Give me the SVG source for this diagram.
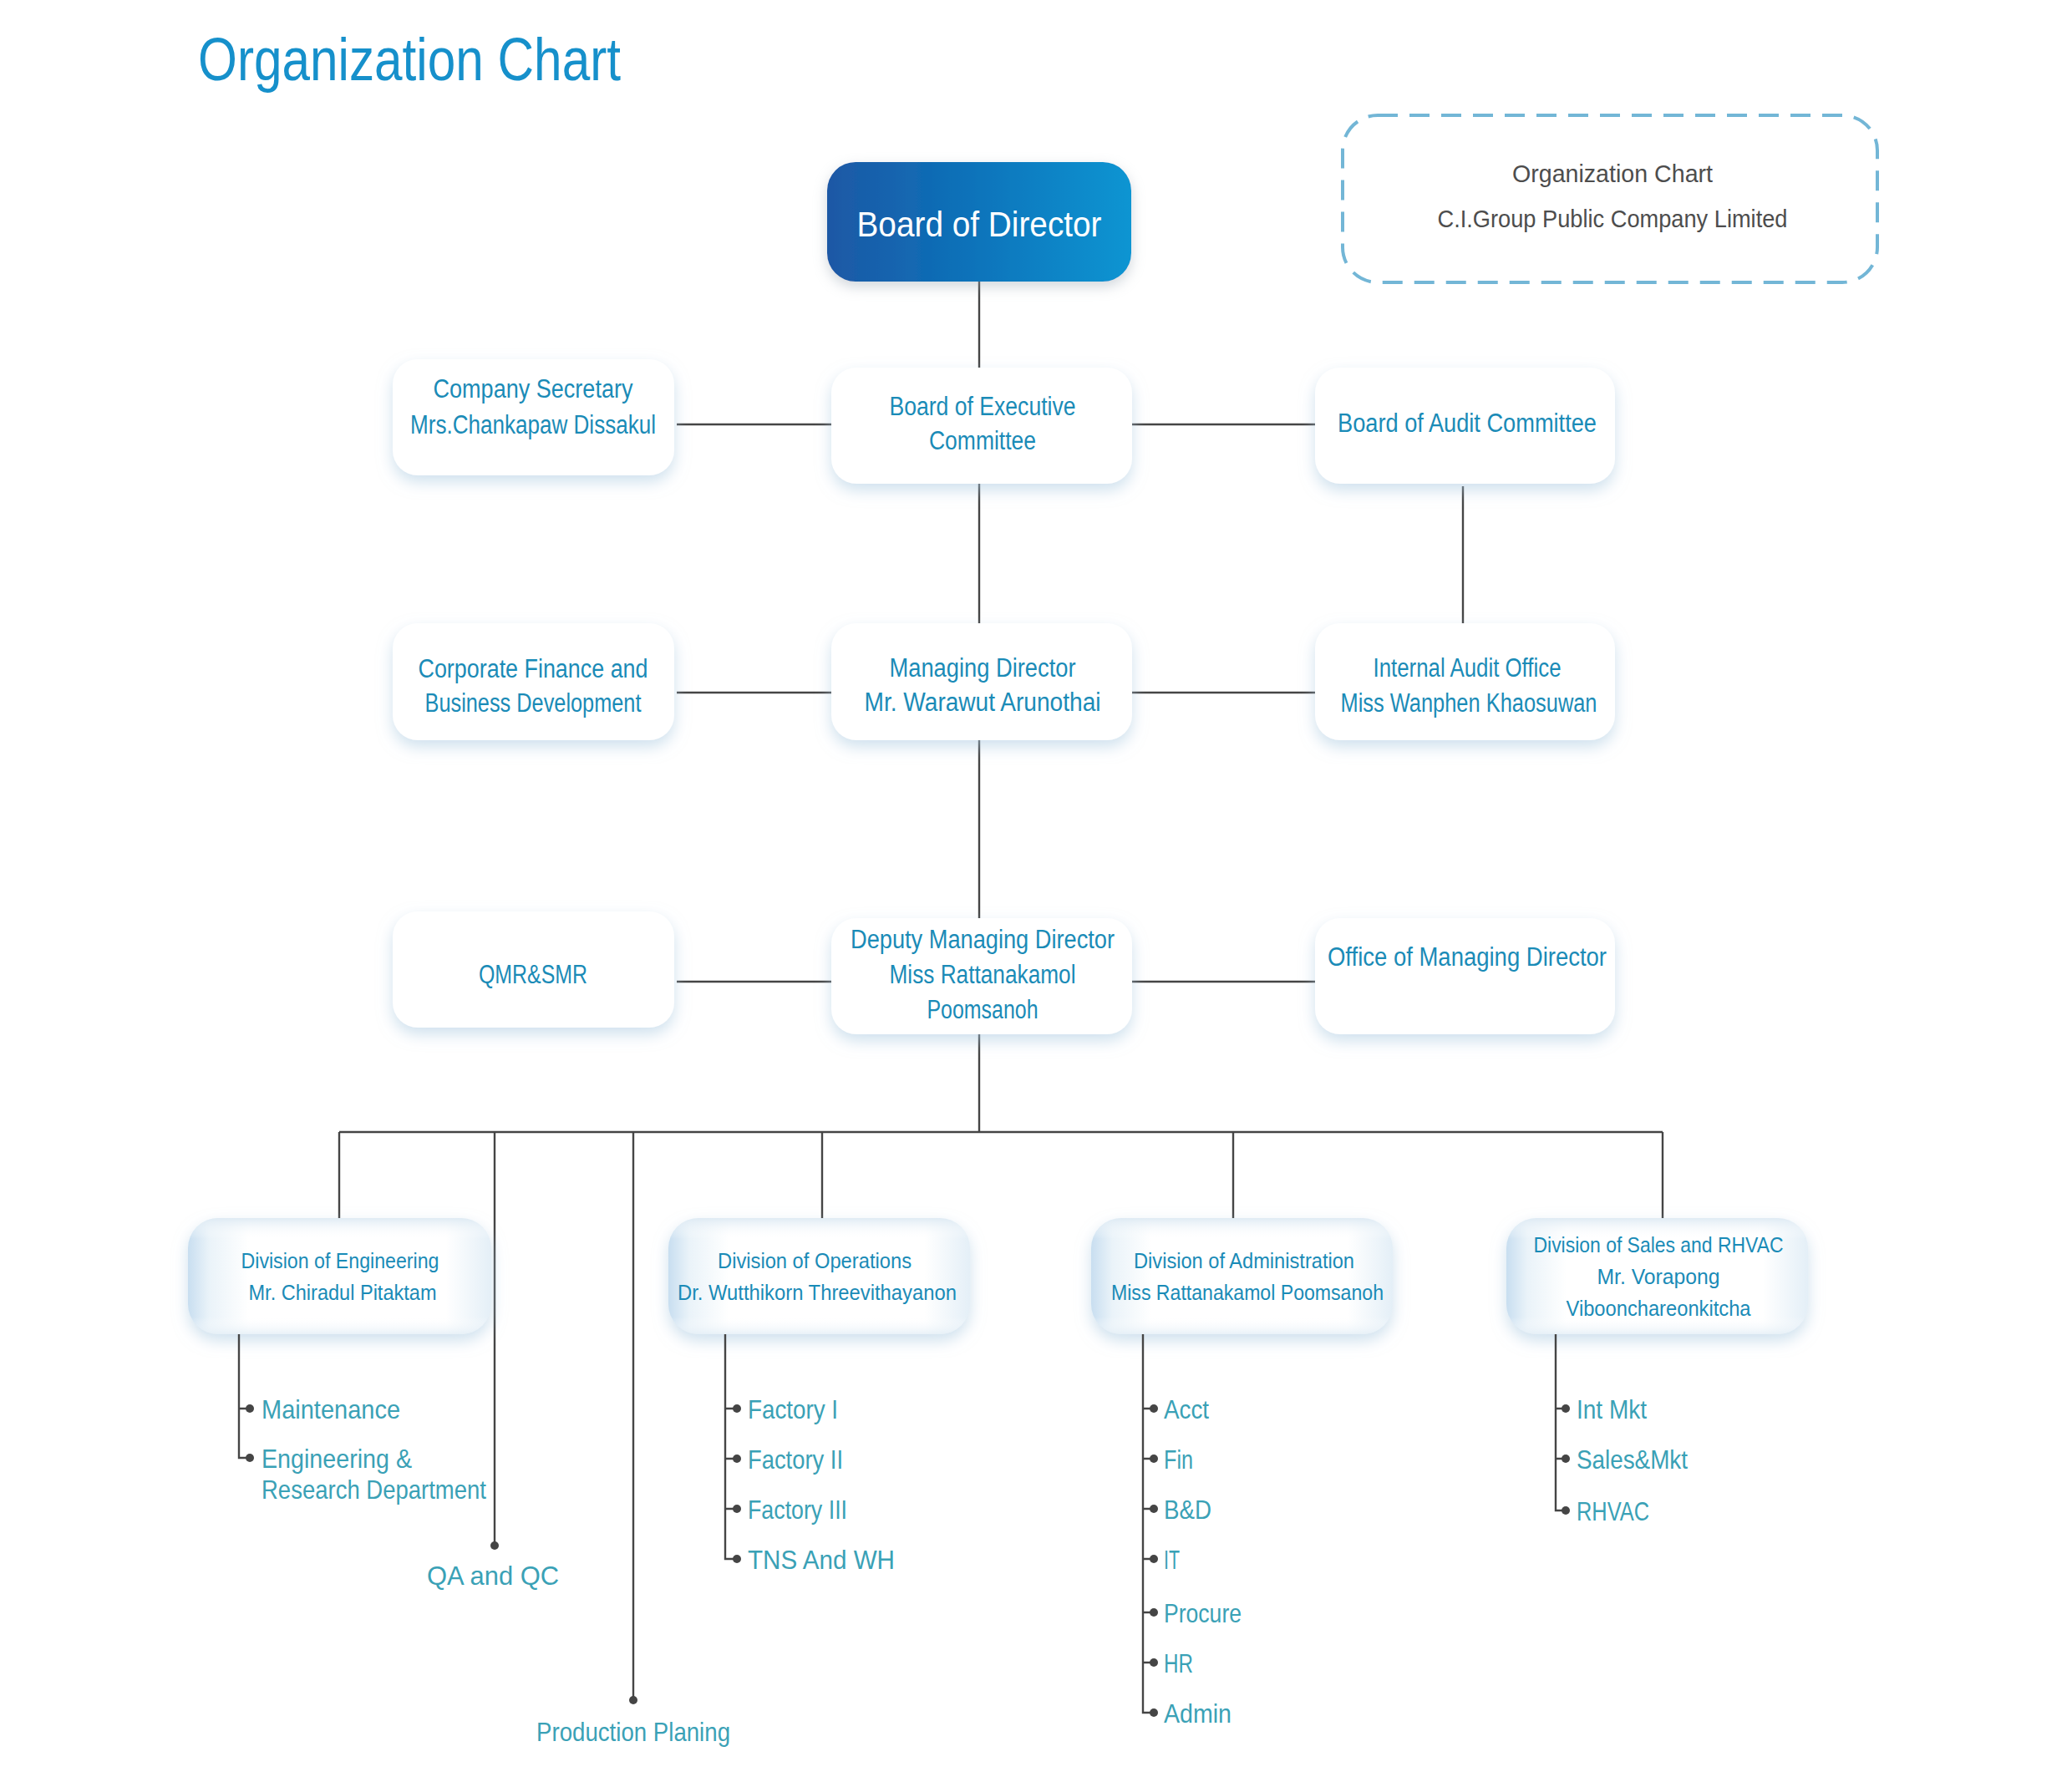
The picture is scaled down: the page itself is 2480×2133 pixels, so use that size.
<svg xmlns="http://www.w3.org/2000/svg" width="2480" height="2133" viewBox="0 0 2480 2133">
<defs>
<linearGradient id="bodGrad" x1="0" y1="0" x2="1" y2="0">
<stop offset="0" stop-color="#1d58a5"/>
<stop offset="0.5" stop-color="#0a74bb"/>
<stop offset="1" stop-color="#0b95d2"/>
</linearGradient>
<linearGradient id="divGradH" x1="0" y1="0" x2="1" y2="0">
<stop offset="0" stop-color="#c8def0"/>
<stop offset="0.07" stop-color="#eaf3f9"/>
<stop offset="0.2" stop-color="#ffffff"/>
<stop offset="0.85" stop-color="#ffffff"/>
<stop offset="1" stop-color="#e4eff7"/>
</linearGradient>
<linearGradient id="divGradV" x1="0" y1="0" x2="0" y2="1">
<stop offset="0" stop-color="#dce9f3" stop-opacity="0.9"/>
<stop offset="0.18" stop-color="#ffffff" stop-opacity="0"/>
<stop offset="0.85" stop-color="#ffffff" stop-opacity="0"/>
<stop offset="1" stop-color="#e3eef6" stop-opacity="0.8"/>
</linearGradient>
<filter id="shadowBlue" x="-20%" y="-20%" width="140%" height="150%">
<feDropShadow dx="0" dy="8" stdDeviation="9" flood-color="#a9c8e0" flood-opacity="0.55"/>
</filter>
<filter id="shadowGrey" x="-20%" y="-20%" width="140%" height="150%">
<feDropShadow dx="0" dy="6" stdDeviation="8" flood-color="#9aa6b2" flood-opacity="0.45"/>
</filter>
</defs>
<style>
text { font-family: "Liberation Sans", Arial, sans-serif; }
.title { font-size: 72px; fill: #1690cb; }
.bt { font-size: 42px; fill: #ffffff; text-anchor: middle; }
.nt { font-size: 31px; fill: #1a8bb7; text-anchor: middle; }
.dt { font-size: 25px; fill: #1a8bb7; text-anchor: middle; }
.lt { font-size: 32px; fill: #3aa1b6; }
.ltc { font-size: 32px; fill: #3aa1b6; text-anchor: middle; }
.bx { fill: #ffffff; filter: url(#shadowBlue); }
.dv { fill: url(#divGradH); filter: url(#shadowBlue); }
.dvo { fill: url(#divGradV); }
.ct { fill: none; stroke: #454545; stroke-width: 2.4; }
.dot { fill: #454545; }
.info { font-size: 30px; fill: #4d4d4d; text-anchor: middle; }
</style>
<rect width="2480" height="2133" fill="#ffffff"/>

<text class="title" x="237" y="96" textLength="506" lengthAdjust="spacingAndGlyphs">Organization Chart</text>

<g id="info-box">
<rect x="1607" y="138" width="640" height="200" rx="42" fill="none" stroke="#73b6d6" stroke-width="4" stroke-dasharray="24 14"/>
<text class="info" x="1930" y="218" textLength="240" lengthAdjust="spacingAndGlyphs">Organization Chart</text>
<text class="info" x="1930" y="272" textLength="419" lengthAdjust="spacingAndGlyphs">C.I.Group Public Company Limited</text>
</g>

<g id="connectors">
<path class="ct" d="M1172 337 V440"/>
<path class="ct" d="M810 508 H995"/>
<path class="ct" d="M1355 508 H1574"/>
<path class="ct" d="M1172 579 V746"/>
<path class="ct" d="M1751 582 V746"/>
<path class="ct" d="M810 829 H995"/>
<path class="ct" d="M1355 829 H1574"/>
<path class="ct" d="M1172 886 V1099"/>
<path class="ct" d="M810 1175 H995"/>
<path class="ct" d="M1355 1175 H1574"/>
<path class="ct" d="M1172 1238 V1355"/>
<path class="ct" d="M406 1355 H1990"/>
<path class="ct" d="M406 1355 V1458"/>
<path class="ct" d="M592 1355 V1850"/>
<path class="ct" d="M758 1355 V2035"/>
<path class="ct" d="M984 1355 V1458"/>
<path class="ct" d="M1476 1355 V1458"/>
<path class="ct" d="M1990 1355 V1458"/>
<circle class="dot" cx="592" cy="1850" r="5"/>
<circle class="dot" cx="758" cy="2035" r="5"/>
</g>

<g id="board-of-director">
<rect x="990" y="194" width="364" height="143" rx="34" fill="url(#bodGrad)" filter="url(#shadowGrey)"/>
<text class="bt" x="1172" y="283" textLength="293" lengthAdjust="spacingAndGlyphs">Board of Director</text>
</g>

<g id="company-secretary">
<rect class="bx" x="470" y="430" width="337" height="139" rx="30"/>
<text class="nt" x="638" y="476" textLength="239" lengthAdjust="spacingAndGlyphs">Company Secretary</text>
<text class="nt" x="638" y="519" textLength="294" lengthAdjust="spacingAndGlyphs">Mrs.Chankapaw Dissakul</text>
</g>

<g id="board-of-executive-committee">
<rect class="bx" x="995" y="440" width="360" height="139" rx="30"/>
<text class="nt" x="1176" y="497" textLength="223" lengthAdjust="spacingAndGlyphs">Board of Executive</text>
<text class="nt" x="1176" y="538" textLength="128" lengthAdjust="spacingAndGlyphs">Committee</text>
</g>

<g id="board-of-audit-committee">
<rect class="bx" x="1574" y="440" width="359" height="139" rx="30"/>
<text class="nt" x="1756" y="517" textLength="310" lengthAdjust="spacingAndGlyphs">Board of Audit Committee</text>
</g>

<g id="corporate-finance">
<rect class="bx" x="470" y="746" width="337" height="140" rx="30"/>
<text class="nt" x="638" y="811" textLength="275" lengthAdjust="spacingAndGlyphs">Corporate Finance and</text>
<text class="nt" x="638" y="852" textLength="259" lengthAdjust="spacingAndGlyphs">Business Development</text>
</g>

<g id="managing-director">
<rect class="bx" x="995" y="746" width="360" height="140" rx="30"/>
<text class="nt" x="1176" y="810" textLength="223" lengthAdjust="spacingAndGlyphs">Managing Director</text>
<text class="nt" x="1176" y="851" textLength="283" lengthAdjust="spacingAndGlyphs">Mr. Warawut Arunothai</text>
</g>

<g id="internal-audit-office">
<rect class="bx" x="1574" y="746" width="359" height="140" rx="30"/>
<text class="nt" x="1756" y="810" textLength="225" lengthAdjust="spacingAndGlyphs">Internal Audit Office</text>
<text class="nt" x="1758" y="852" textLength="307" lengthAdjust="spacingAndGlyphs">Miss Wanphen Khaosuwan</text>
</g>

<g id="qmr-smr">
<rect class="bx" x="470" y="1091" width="337" height="139" rx="30"/>
<text class="nt" x="638" y="1177" textLength="130" lengthAdjust="spacingAndGlyphs">QMR&amp;SMR</text>
</g>

<g id="deputy-managing-director">
<rect class="bx" x="995" y="1099" width="360" height="139" rx="30"/>
<text class="nt" x="1176" y="1135" textLength="316" lengthAdjust="spacingAndGlyphs">Deputy Managing Director</text>
<text class="nt" x="1176" y="1177" textLength="223" lengthAdjust="spacingAndGlyphs">Miss Rattanakamol</text>
<text class="nt" x="1176" y="1219" textLength="133" lengthAdjust="spacingAndGlyphs">Poomsanoh</text>
</g>

<g id="office-of-managing-director">
<rect class="bx" x="1574" y="1099" width="359" height="139" rx="30"/>
<text class="nt" x="1756" y="1156" textLength="334" lengthAdjust="spacingAndGlyphs">Office of Managing Director</text>
</g>

<g id="division-engineering">
<rect class="dv" x="225" y="1458" width="363" height="139" rx="36"/>
<rect class="dvo" x="225" y="1458" width="363" height="139" rx="36"/>
<text class="dt" x="407" y="1518" textLength="237" lengthAdjust="spacingAndGlyphs">Division of Engineering</text>
<text class="dt" x="410" y="1556" textLength="225" lengthAdjust="spacingAndGlyphs">Mr. Chiradul Pitaktam</text>
</g>

<g id="division-operations">
<rect class="dv" x="800" y="1458" width="361" height="139" rx="36"/>
<rect class="dvo" x="800" y="1458" width="361" height="139" rx="36"/>
<text class="dt" x="975" y="1518" textLength="232" lengthAdjust="spacingAndGlyphs">Division of Operations</text>
<text class="dt" x="978" y="1556" textLength="334" lengthAdjust="spacingAndGlyphs">Dr. Wutthikorn Threevithayanon</text>
</g>

<g id="division-administration">
<rect class="dv" x="1306" y="1458" width="361" height="139" rx="36"/>
<rect class="dvo" x="1306" y="1458" width="361" height="139" rx="36"/>
<text class="dt" x="1489" y="1518" textLength="264" lengthAdjust="spacingAndGlyphs">Division of Administration</text>
<text class="dt" x="1493" y="1556" textLength="326" lengthAdjust="spacingAndGlyphs">Miss Rattanakamol Poomsanoh</text>
</g>

<g id="division-sales">
<rect class="dv" x="1803" y="1458" width="361" height="139" rx="36"/>
<rect class="dvo" x="1803" y="1458" width="361" height="139" rx="36"/>
<text class="dt" x="1985" y="1499" textLength="299" lengthAdjust="spacingAndGlyphs">Division of Sales and RHVAC</text>
<text class="dt" x="1985" y="1537" textLength="147" lengthAdjust="spacingAndGlyphs">Mr. Vorapong</text>
<text class="dt" x="1985" y="1575" textLength="221" lengthAdjust="spacingAndGlyphs">Viboonchareonkitcha</text>
</g>

<g id="list-engineering">
<path class="ct" d="M286 1597 V1745 H297 M286 1686 H297"/>
<circle class="dot" cx="299" cy="1686" r="5"/>
<circle class="dot" cx="299" cy="1745" r="5"/>
<text class="lt" x="313" y="1698" textLength="166" lengthAdjust="spacingAndGlyphs">Maintenance</text>
<text class="lt" x="313" y="1757" textLength="180" lengthAdjust="spacingAndGlyphs">Engineering &amp;</text>
<text class="lt" x="313" y="1794" textLength="269" lengthAdjust="spacingAndGlyphs">Research Department</text>
</g>

<g id="qa-qc">
<text class="ltc" x="590" y="1897" textLength="158" lengthAdjust="spacingAndGlyphs">QA and QC</text>
</g>

<g id="production-planing">
<text class="ltc" x="758" y="2084" textLength="232" lengthAdjust="spacingAndGlyphs">Production Planing</text>
</g>

<g id="list-operations">
<path class="ct" d="M868 1597 V1866 H880 M868 1686 H880 M868 1746 H880 M868 1806 H880"/>
<circle class="dot" cx="882" cy="1686" r="5"/>
<circle class="dot" cx="882" cy="1746" r="5"/>
<circle class="dot" cx="882" cy="1806" r="5"/>
<circle class="dot" cx="882" cy="1866" r="5"/>
<text class="lt" x="895" y="1698" textLength="108" lengthAdjust="spacingAndGlyphs">Factory I</text>
<text class="lt" x="895" y="1758" textLength="114" lengthAdjust="spacingAndGlyphs">Factory II</text>
<text class="lt" x="895" y="1818" textLength="119" lengthAdjust="spacingAndGlyphs">Factory III</text>
<text class="lt" x="895" y="1878" textLength="176" lengthAdjust="spacingAndGlyphs">TNS And WH</text>
</g>

<g id="list-administration">
<path class="ct" d="M1368 1597 V2050 H1379 M1368 1686 H1379 M1368 1746 H1379 M1368 1806 H1379 M1368 1866 H1379 M1368 1930 H1379 M1368 1990 H1379"/>
<circle class="dot" cx="1381" cy="1686" r="5"/>
<circle class="dot" cx="1381" cy="1746" r="5"/>
<circle class="dot" cx="1381" cy="1806" r="5"/>
<circle class="dot" cx="1381" cy="1866" r="5"/>
<circle class="dot" cx="1381" cy="1930" r="5"/>
<circle class="dot" cx="1381" cy="1990" r="5"/>
<circle class="dot" cx="1381" cy="2050" r="5"/>
<text class="lt" x="1393" y="1698" textLength="54" lengthAdjust="spacingAndGlyphs">Acct</text>
<text class="lt" x="1393" y="1758" textLength="35" lengthAdjust="spacingAndGlyphs">Fin</text>
<text class="lt" x="1393" y="1818" textLength="57" lengthAdjust="spacingAndGlyphs">B&amp;D</text>
<text class="lt" x="1393" y="1878" textLength="19" lengthAdjust="spacingAndGlyphs">IT</text>
<text class="lt" x="1393" y="1942" textLength="93" lengthAdjust="spacingAndGlyphs">Procure</text>
<text class="lt" x="1393" y="2002" textLength="35" lengthAdjust="spacingAndGlyphs">HR</text>
<text class="lt" x="1393" y="2062" textLength="81" lengthAdjust="spacingAndGlyphs">Admin</text>
</g>

<g id="list-sales">
<path class="ct" d="M1862 1597 V1808 H1872 M1862 1686 H1872 M1862 1746 H1872"/>
<circle class="dot" cx="1874" cy="1686" r="5"/>
<circle class="dot" cx="1874" cy="1746" r="5"/>
<circle class="dot" cx="1874" cy="1808" r="5"/>
<text class="lt" x="1887" y="1698" textLength="84" lengthAdjust="spacingAndGlyphs">Int Mkt</text>
<text class="lt" x="1887" y="1758" textLength="133" lengthAdjust="spacingAndGlyphs">Sales&amp;Mkt</text>
<text class="lt" x="1887" y="1820" textLength="87" lengthAdjust="spacingAndGlyphs">RHVAC</text>
</g>
</svg>
